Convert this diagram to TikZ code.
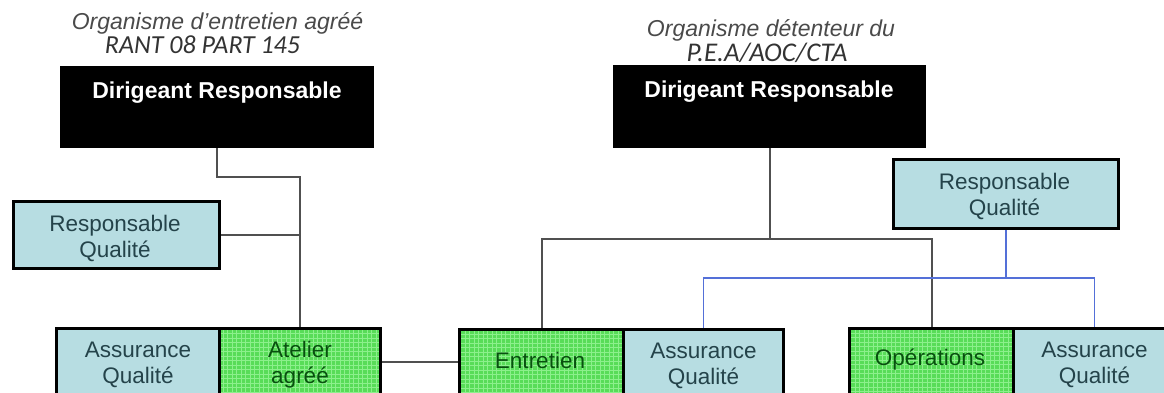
\documentclass[tikz,border=0pt]{standalone}
\usepackage{fontspec}
\setmainfont{Liberation Sans}
\newfontfamily\calib{Carlito}
\definecolor{qblue}{HTML}{B7DDE2}
\definecolor{qgreen}{HTML}{58DC58}
\definecolor{qgrid}{HTML}{8CF08C}
\definecolor{qbluetext}{HTML}{24434A}
\definecolor{qgreentext}{HTML}{08500F}
\definecolor{conncol}{HTML}{505050}
\definecolor{bluecol}{HTML}{5470D8}
\definecolor{titlecol}{HTML}{4A4A4A}
\begin{document}
\begin{tikzpicture}[x=1pt,y=-1pt,
  boxtxt/.style={font=\fontsize{22.5}{26}\selectfont, align=center, inner sep=0pt},
  chief/.style={fill=black, draw=none, anchor=north west, inner sep=0pt},
  chieftxt/.style={anchor=base, text=white, font=\bfseries\fontsize{23}{26}\selectfont, inner sep=0pt},
  bluebox/.style={boxtxt, fill=qblue, draw=black, line width=3pt, anchor=north west, text=qbluetext},
  greenbox/.style={boxtxt, fill=qgreen, draw=black, line width=3pt, anchor=north west, text=qgreentext,
    path picture={\draw[qgrid, line width=0.9pt] ([xshift=-20pt,yshift=-20pt]path picture bounding box.south west) grid[step=4.5pt] ([xshift=20pt,yshift=20pt]path picture bounding box.north east);}},
  conn/.style={draw=conncol, line width=2pt},
  qconn/.style={draw=bluecol, line width=1.6pt},
  ttl/.style={anchor=base, text=titlecol, inner sep=0pt}
]
\useasboundingbox (0,0) rectangle (1164,392);

% titles
\node[ttl, font=\itshape\fontsize{23}{26}\selectfont] (t1a) at (217.5,29) {Organisme d'entretien agréé};
\node[ttl, font=\calib\itshape\fontsize{26}{28}\selectfont, text=black!80] (t1b) at (202.5,53) {RANT 08 PART 145};
\node[ttl, font=\itshape\fontsize{23}{26}\selectfont] (t2a) at (771,36) {Organisme détenteur du};
\node[ttl, font=\calib\itshape\fontsize{27}{28}\selectfont, text=black!80] (t2b) at (767,61) {P.E.A/AOC/CTA};

% chief boxes
\node[chief, minimum width=314pt, minimum height=82pt] (dl) at (60,66) {};
\node[chieftxt] (dlt) at (217,98) {Dirigeant Responsable};
\node[chief, minimum width=313pt, minimum height=83pt] (dr) at (613,65) {};
\node[chieftxt] (drt) at (769,97) {Dirigeant Responsable};

% quality managers
\node[bluebox, minimum width=206pt, minimum height=67pt] (rql) at (12,200) {};
\node[boxtxt, text=qbluetext] (rqlt) at (115,238) {Responsable\\Qualité};
\node[bluebox, minimum width=225pt, minimum height=69pt] (rqr) at (892,158) {};
\node[boxtxt, text=qbluetext] (rqrt) at (1004.5,196) {Responsable\\Qualité};

% bottom row
\node[bluebox, minimum width=163pt, minimum height=72pt] (aq1) at (55,327) {Assurance\\Qualité};
\node[greenbox, minimum width=161pt, minimum height=72pt] (atelier) at (218,327) {Atelier\\agréé};
\node[greenbox, minimum width=164pt, minimum height=72pt] (entretien) at (458,328) {};
\node[boxtxt, text=qgreentext] (entt) at (540,360) {Entretien};
\node[bluebox, minimum width=160pt, minimum height=72pt] (aq2) at (622,328) {Assurance\\Qualité};
\node[greenbox, minimum width=164pt, minimum height=72pt] (operations) at (848,327) {};
\node[boxtxt, text=qgreentext] (opt) at (930,360) {Opérations};
\node[bluebox, minimum width=162pt, minimum height=72pt] (aq3) at (1012,327) {Assurance\\Qualité};

% left organisation connectors
\draw[conn] (dl.south) -- (dl.south |- 0,177) -| (atelier.north);
\draw[conn] (rql.east) -- (rql.east -| atelier.north);
\draw[conn] (atelier.east |- 0,362) -- (entretien.west |- 0,362);

% right organisation connectors
\draw[conn] (dr.south) -- (dr.south |- 0,239);
\draw[conn] (entretien.north) |- (operations.north |- 0,239) -- (operations.north);
\draw[qconn] (rqr.south) -- (rqr.south |- 0,278);
\draw[qconn] (aq2.north) |- (aq3.north |- 0,278) -- (aq3.north);
\end{tikzpicture}
\end{document}
